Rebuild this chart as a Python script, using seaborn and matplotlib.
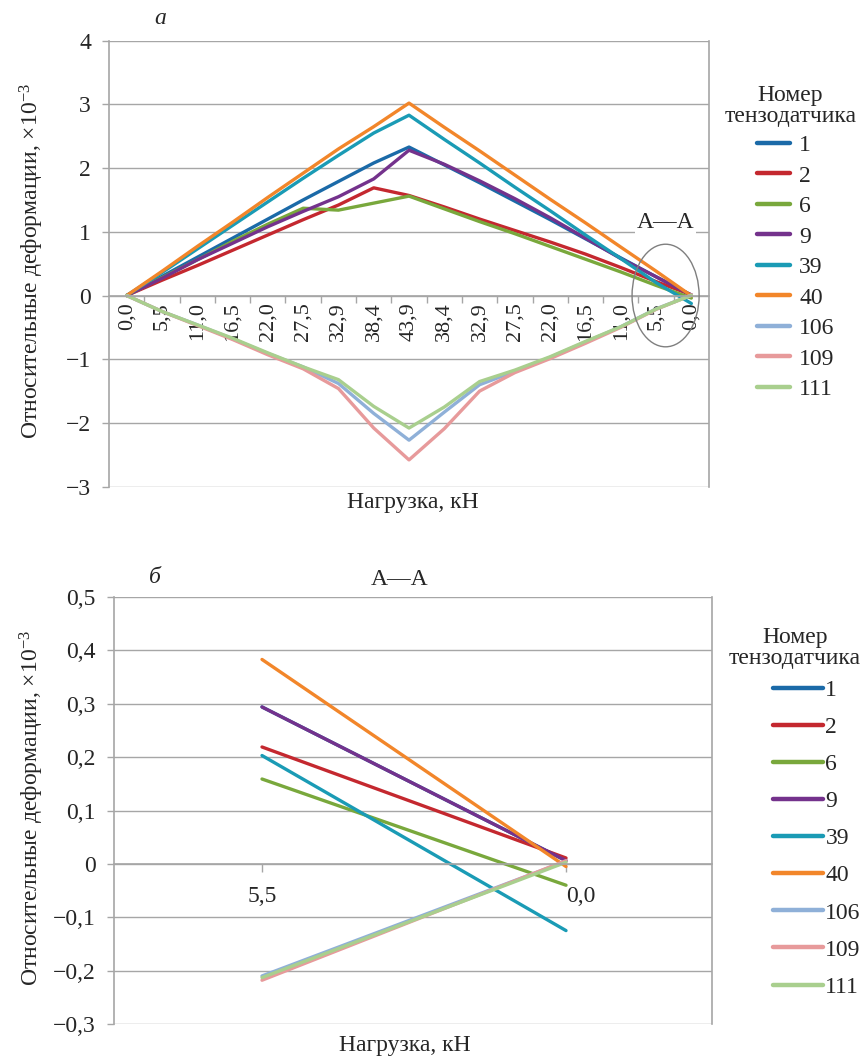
import matplotlib.patches as patches
import matplotlib.pyplot as plt
import numpy as np
import pandas as pd
import seaborn as sns
from matplotlib.ticker import FixedLocator

# load steps (loading, then unloading)
loads = ["0,0", "5,5", "11,0", "16,5", "22,0", "27,5", "32,9", "38,4", "43,9",
         "38,4", "32,9", "27,5", "22,0", "16,5", "11,0", "5,5", "0,0"]
sensors = ["1", "2", "6", "9", "39", "40", "106", "109", "111"]
colors = ["#1b6aa8", "#c4282f", "#79a83c", "#74328c", "#1a9bb5",
          "#f2862a", "#8fb0d8", "#e79a9b", "#a9cf8e"]

s1 = [0, 0.30, 0.60, 0.90, 1.20, 1.50, 1.79, 2.08, 2.33, 2.05, 1.77, 1.48, 1.19, 0.89, 0.59, 0.294, 0.006]
s2 = [0, 0.24, 0.47, 0.71, 0.95, 1.19, 1.42, 1.69, 1.57, 1.39, 1.20, 1.02, 0.84, 0.65, 0.44, 0.219, 0.011]
s6 = [0, 0.28, 0.56, 0.85, 1.12, 1.37, 1.34, 1.45, 1.56, 1.36, 1.16, 0.97, 0.77, 0.57, 0.37, 0.159, -0.04]
s9 = [0, 0.27, 0.56, 0.82, 1.08, 1.32, 1.55, 1.83, 2.28, 2.06, 1.80, 1.52, 1.22, 0.90, 0.58, 0.294, 0.006]
s39 = [0, 0.36, 0.73, 1.10, 1.47, 1.84, 2.20, 2.55, 2.83, 2.45, 2.08, 1.70, 1.33, 0.95, 0.58, 0.203, -0.125]
s40 = [0, 0.38, 0.77, 1.15, 1.54, 1.92, 2.30, 2.65, 3.02, 2.64, 2.27, 1.89, 1.51, 1.14, 0.76, 0.383, -0.005]
s106 = [0, -0.25, -0.46, -0.68, -0.91, -1.12, -1.38, -1.85, -2.27, -1.83, -1.40, -1.19, -0.97, -0.73, -0.49, -0.210, 0.005]
s109 = [0, -0.25, -0.47, -0.69, -0.93, -1.15, -1.46, -2.08, -2.58, -2.09, -1.50, -1.21, -0.99, -0.75, -0.50, -0.218, 0.006]
s111 = [0, -0.25, -0.46, -0.67, -0.90, -1.12, -1.32, -1.74, -2.08, -1.75, -1.35, -1.17, -0.96, -0.72, -0.49, -0.213, 0.003]
series = [s1, s2, s6, s9, s39, s40, s106, s109, s111]

top_yticks = [-3, -2, -1, 0, 1, 2, 3, 4]
top_ylabels = ["−3", "−2", "−1", "0", "1", "2", "3", "4"]
bot_yticks = [-0.3, -0.2, -0.1, 0, 0.1, 0.2, 0.3, 0.4, 0.5]
bot_ylabels = ["−0,3", "−0,2", "−0,1", "0", "0,1", "0,2", "0,3", "0,4", "0,5"]

ylabel = "Относительные деформации, ×10$^{\\mathregular{−3}}$"
xlabel = "Нагрузка, кН"
legend_title = "Номер\nтензодатчика"


def long_frame(start):
    rows = []
    for name, vals in zip(sensors, series):
        for i, v in enumerate(vals[start:]):
            rows.append({"pos": i, "sensor": name, "val": v})
    return pd.DataFrame(rows)


sns.set_style("white")
plt.rcParams["font.family"] = ["Liberation Serif", "DejaVu Serif"]
plt.rcParams["mathtext.fontset"] = "custom"
plt.rcParams["mathtext.rm"] = "Liberation Serif"
plt.rcParams["mathtext.it"] = "Liberation Serif:italic"
plt.rcParams["axes.unicode_minus"] = True

gray = "#a6a6a6"
fs = 17
palette = dict(zip(sensors, colors))

fig = plt.figure(figsize=(8.64, 10.64), dpi=100)
ax1 = fig.add_axes([0.1262, 0.5426, 0.6944, 0.4192])
ax2 = fig.add_axes([0.1319, 0.0376, 0.6921, 0.4013])

df_top = long_frame(0)
df_bot = long_frame(15)

for ax, df in [(ax1, df_top), (ax2, df_bot)]:
    sns.lineplot(data=df, x="pos", y="val", hue="sensor", hue_order=sensors,
                 palette=palette, linewidth=2.4, errorbar=None, ax=ax)
    ax.set_xlabel("")
    ax.set_ylabel("")
    ax.grid(axis="y", color=gray, lw=1)
    ax.grid(axis="x", visible=False)
    ax.set_axisbelow(True)
    ax.spines["top"].set_visible(False)
    for sp in ["left", "right", "bottom"]:
        ax.spines[sp].set_color(gray)
        ax.spines[sp].set_linewidth(1.2)
    ax.spines["bottom"].set_position(("data", 0))
    ax.tick_params(axis="y", left=True, length=5, width=1, color=gray, pad=8, labelsize=fs)

# top chart
ax1.set_xlim(-0.5, 16.5)
ax1.set_ylim(-3, 4)
ax1.set_yticks(top_yticks)
ax1.set_yticklabels(top_ylabels)
ax1.set_xticks(range(len(loads)))
ax1.set_xticklabels(loads, rotation=90, va="top", ha="center", fontsize=16)
ax1.xaxis.set_minor_locator(FixedLocator(np.arange(0.5, 16, 1)))
ax1.tick_params(axis="x", which="major", bottom=False, length=0, pad=5)
ax1.tick_params(axis="x", which="minor", bottom=True, length=5, width=1, color=gray)

ell = patches.Ellipse((15.27, 0.0), 1.9, 1.61, fill=False, edgecolor="#7f7f7f",
                      lw=1, clip_on=False, zorder=5)
ax1.add_patch(ell)
ax1.text(15.27, 1.15, "А—А", fontsize=fs, ha="center", va="center",
         bbox=dict(facecolor="white", edgecolor="none", pad=1), zorder=6)

# bottom chart (section A-A)
ax2.set_xlim(-0.487, 1.48)
ax2.set_ylim(-0.3, 0.5)
ax2.set_yticks(bot_yticks)
ax2.set_yticklabels(bot_ylabels)
ax2.set_xticks([0, 1])
ax2.set_xticklabels(loads[15:], fontsize=fs)
ax2.get_xticklabels()[1].set_ha("left")
ax2.tick_params(axis="x", which="major", bottom=True, length=6, width=1, color=gray, pad=10)

# legends (title drawn separately)
for ax, anchor, hl, tp, ls, tpos in [
        (ax1, (0.862, 0.8846), 1.4, 0.4, 0.38, (0.915, 0.900)),
        (ax2, (0.881, 0.3726), 2.1, 0.12, 0.66, (0.920, 0.391))]:
    handles, labels = ax.get_legend_handles_labels()
    ax.get_legend().remove()
    for h in handles:
        h.set_linewidth(3.2)
    ax.legend(handles, labels, loc="upper left", bbox_to_anchor=anchor,
              bbox_transform=fig.transFigure, frameon=False,
              fontsize=fs, handlelength=hl, handletextpad=tp,
              labelspacing=ls, borderpad=0)
    fig.text(tpos[0], tpos[1], legend_title, ha="center", va="center",
             multialignment="center", fontsize=fs, linespacing=1.0)

# labels
fig.text(0.037, 0.7547, ylabel, rotation=90, ha="center", va="center", fontsize=fs)
fig.text(0.037, 0.2406, ylabel, rotation=90, ha="center", va="center", fontsize=fs)
fig.text(0.478, 0.528, xlabel, ha="center", va="center", fontsize=fs)
fig.text(0.469, 0.017, xlabel, ha="center", va="center", fontsize=fs)
fig.text(0.185, 0.983, "а", ha="center", va="center", fontsize=fs, style="italic")
fig.text(0.179, 0.457, "б", ha="center", va="center", fontsize=fs, style="italic")
fig.text(0.463, 0.455, "А—А", ha="center", va="center", fontsize=fs)

fig.savefig("out.png", dpi=100, facecolor="white")
